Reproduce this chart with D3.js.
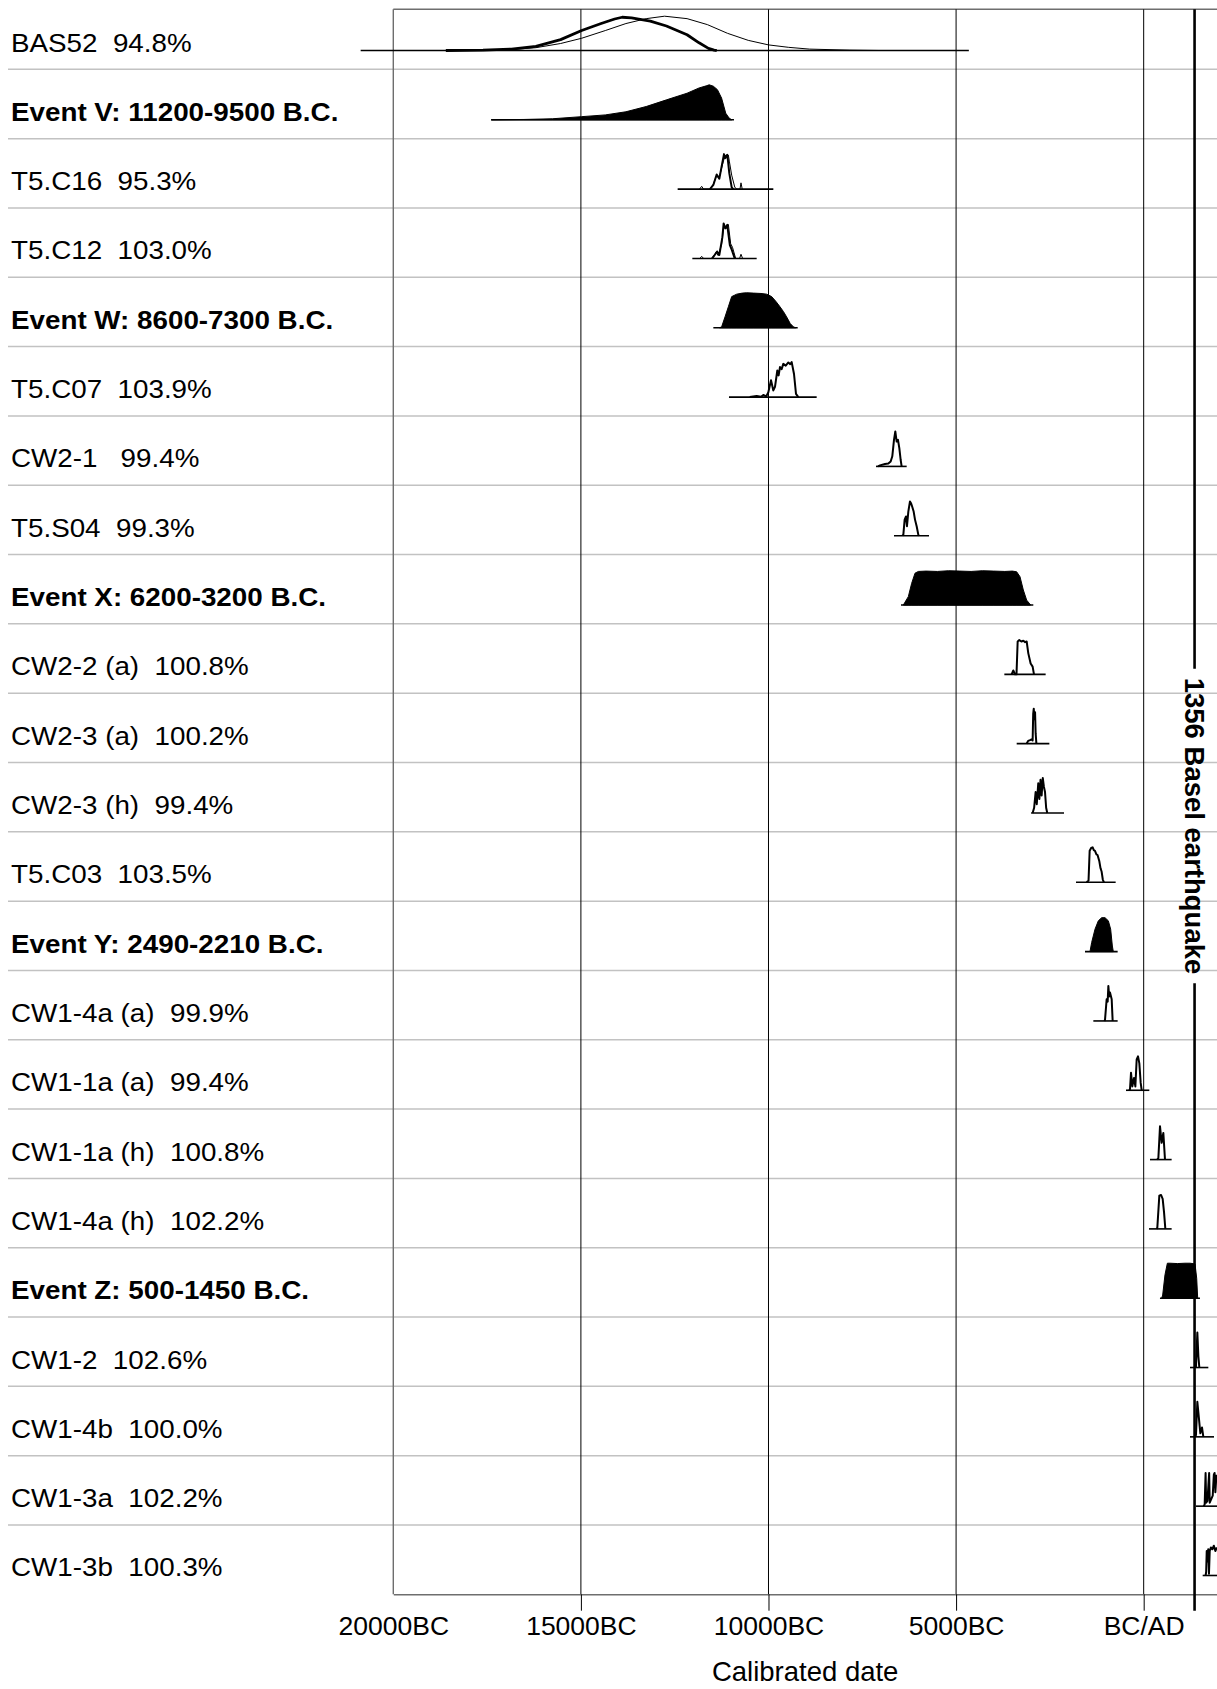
<!DOCTYPE html>
<html>
<head>
<meta charset="utf-8">
<script src="https://cdn.jsdelivr.net/npm/d3@7"></script>
<style>
  body { margin: 0; background: #fff; }
  svg { display: block; }
</style>
</head>
<body>
<svg id="chart" width="1217" height="1689"></svg>
<script>
// ---- data -------------------------------------------------------------
// One row per sample / event, top to bottom.
const rowLabels = [
  "BAS52  94.8%",
  "Event V: 11200-9500 B.C.",
  "T5.C16  95.3%",
  "T5.C12  103.0%",
  "Event W: 8600-7300 B.C.",
  "T5.C07  103.9%",
  "CW2-1   99.4%",
  "T5.S04  99.3%",
  "Event X: 6200-3200 B.C.",
  "CW2-2 (a)  100.8%",
  "CW2-3 (a)  100.2%",
  "CW2-3 (h)  99.4%",
  "T5.C03  103.5%",
  "Event Y: 2490-2210 B.C.",
  "CW1-4a (a)  99.9%",
  "CW1-1a (a)  99.4%",
  "CW1-1a (h)  100.8%",
  "CW1-4a (h)  102.2%",
  "Event Z: 500-1450 B.C.",
  "CW1-2  102.6%",
  "CW1-4b  100.0%",
  "CW1-3a  102.2%",
  "CW1-3b  100.3%"
];

const rowKinds = [
  "sample", "event", "sample", "sample", "event", "sample", "sample", "sample",
  "event", "sample", "sample", "sample", "sample", "event", "sample", "sample",
  "sample", "sample", "event", "sample", "sample", "sample", "sample"
];

// Calendar range over which each distribution was evaluated (years, BC negative)
const rowRanges = [
  [-20870, -4660], [-17390, -10920], [-12421, -9871], [-12030, -10315],
  [-11470, -9222], [-11053, -8716], [-7135, -6317], [-6655, -5722],
  [-6469, -2942], [-3714, -2613], [-3385, -2514], [-3000, -2124],
  [-1804, -747], [-1564, -694], [-1342, -694], [-472, 150],
  [168, 745], [141, 745], [434, 1500], [1234, 1723],
  [1234, 1874], [1394, 2000], [1572, 2000]
];

// Posterior (modelled) probability, [year, relative density 0-100]
const posteriors = [
  [[-18600,0],[-17610,1],[-16850,4],[-16200,12],[-15540,31],[-14980,57],[-14460,77],[-14100,90],[-13900,95],[-13650,93],[-13150,84],[-12720,70],[-12170,45],[-11850,22],[-11600,6],[-11450,1],[-11380,0]],
  [[-17390,0],[-16520,1],[-15760,3],[-14980,9],[-14350,14],[-13800,23],[-13260,38],[-12720,57],[-12170,76],[-11850,91],[-11660,97],[-11580,100],[-11470,96],[-11360,86],[-11250,62],[-11140,19],[-11050,5],[-10980,0]],
  [[-11560,0],[-11470,12],[-11381,42],[-11310,30],[-11240,70],[-11186,100],[-11159,88],[-11120,96],[-11097,98],[-11044,45],[-10981,5],[-10937,0]],
  [[-11500,0],[-11420,12],[-11370,20],[-11310,10],[-11230,60],[-11195,100],[-11150,86],[-11100,96],[-11030,38],[-10980,25],[-10900,0]],
  [[-11300,0],[-11248,3],[-11159,31],[-11070,60],[-10981,89],[-10848,96],[-10700,99],[-10582,100],[-10400,99],[-10200,98],[-10049,96],[-9915,89],[-9800,75],[-9693,60],[-9600,46],[-9516,31],[-9420,12],[-9338,3],[-9280,0]],
  [[-10500,0],[-10315,3],[-10200,1],[-10138,6],[-10060,2],[-10004,14],[-9933,48],[-9871,19],[-9827,29],[-9765,76],[-9730,62],[-9693,86],[-9650,80],[-9605,95],[-9540,90],[-9471,99],[-9420,94],[-9382,100],[-9320,66],[-9267,9],[-9205,0]],
  [[-7080,0],[-7028,3],[-6895,7],[-6806,8],[-6744,14],[-6700,29],[-6655,76],[-6620,100],[-6584,71],[-6549,76],[-6513,52],[-6478,19],[-6451,0]],
  [[-6430,0],[-6406,3],[-6371,46],[-6335,55],[-6309,27],[-6273,69],[-6229,98],[-6202,93],[-6167,82],[-6131,69],[-6095,46],[-6051,27],[-6007,3],[-5990,0]],
  [[-6406,0],[-6273,24],[-6184,62],[-6095,91],[-6006,96],[-5800,97],[-5500,96],[-5200,98],[-4900,97],[-4600,96],[-4300,98],[-4000,97],[-3700,96],[-3500,97],[-3386,95],[-3297,81],[-3208,43],[-3119,14],[-3013,0]],
  [[-3520,0],[-3475,11],[-3430,0],[-3390,0],[-3359,94],[-3315,98],[-3260,94],[-3208,96],[-3160,92],[-3119,94],[-3075,60],[-3013,31],[-2960,22],[-2924,0]],
  [[-3120,0],[-3080,8],[-3030,10],[-2990,12],[-2960,9],[-2945,85],[-2930,100],[-2912,70],[-2895,90],[-2880,30],[-2860,0]],
  [[-2960,0],[-2920,15],[-2880,60],[-2850,25],[-2810,85],[-2780,40],[-2750,95],[-2720,50],[-2690,100],[-2660,75],[-2630,60],[-2600,15],[-2570,0]],
  [[-1520,0],[-1470,5],[-1440,90],[-1400,98],[-1360,100],[-1330,92],[-1298,90],[-1260,80],[-1230,78],[-1182,60],[-1150,40],[-1120,30],[-1090,8],[-1060,0]],
  [[-1431,0],[-1387,26],[-1298,64],[-1209,88],[-1120,97],[-1031,97],[-942,88],[-880,64],[-835,16],[-809,0]],
  [[-1050,0],[-1031,3],[-987,62],[-960,55],[-942,100],[-920,70],[-898,81],[-853,62],[-827,0]],
  [[-380,0],[-364,4],[-338,50],[-302,11],[-258,35],[-222,11],[-187,88],[-151,97],[-116,77],[-80,21],[-53,0]],
  [[360,0],[391,4],[435,95],[479,48],[524,76],[568,0]],
  [[340,0],[363,3],[417,95],[462,97],[506,86],[542,48],[577,0]],
  [[480,0],[506,9],[568,67],[631,100],[702,100],[900,99],[1100,100],[1235,100],[1368,98],[1413,57],[1439,0]],
  [[1380,0],[1394,3],[1430,100],[1457,33],[1483,0]],
  [[1380,0],[1394,6],[1430,100],[1475,50],[1510,10],[1554,27],[1590,0]],
  [[1600,0],[1625,5],[1650,95],[1665,10],[1700,15],[1725,60],[1745,95],[1760,10],[1800,20],[1840,30],[1870,90],[1890,95],[1910,40],[1940,90]],
  [[1650,0],[1665,10],[1680,70],[1700,40],[1720,75],[1740,5],[1760,70],[1790,80],[1830,75],[1870,85],[1910,70],[1950,80]]
];

// Unmodelled likelihoods (shown as thin outlines where they differ visibly)
const likelihoods = [
  [[-18150,0],[-17060,1],[-16200,8],[-15540,20],[-14980,35],[-14350,57],[-13800,77],[-13260,91],[-12770,98],[-12170,91],[-11630,74],[-11090,49],[-10540,29],[-10000,16],[-9460,9],[-8910,4],[-7830,1],[-7060,0]],
  null,
  [[-11840,0],[-11781,8],[-11730,0],[-11560,0],[-11470,14],[-11381,40],[-11320,30],[-11250,60],[-11159,97],[-11133,88],[-11097,92],[-11070,97],[-11044,80],[-10981,40],[-10900,6],[-10848,0],[-10760,0],[-10733,18],[-10700,0]],
  [[-11830,0],[-11781,6],[-11730,0],[-11520,0],[-11440,10],[-11400,18],[-11340,8],[-11250,40],[-11186,99],[-11133,85],[-11070,97],[-11008,42],[-10960,32],[-10875,0],[-10770,0],[-10733,12],[-10690,0]],
  null, null, null, null, null, null, null, null, null, null, null, null,
  null, null, null, null, null, null, null
];

const tickYears = [-20000, -15000, -10000, -5000, 0];
const tickLabels = ["20000BC", "15000BC", "10000BC", "5000BC", "BC/AD"];
const markerYear = 1356;
const markerLabel = "1356 Basel earthquake";
const axisTitle = "Calibrated date";

// ---- layout -----------------------------------------------------------
const W = 1217, H = 1689;
const plotLeft = 393.3, plotRight = W;
const frameTop = 9.3, axisY = 1594.3;
const tickLen = 16.4;
const baseOffset = 50.5;      // distribution baseline inside a row
const labelOffset = 51.5;     // label baseline inside a row

const svg = d3.select("#chart");

const x = d3.scaleLinear().domain([-20000, 1954]).range([plotLeft, plotRight]);
const row = d3.scaleBand().domain(d3.range(rowLabels.length)).range([0, axisY]);
const h = d3.scaleLinear().domain([0, 100]).range([0, 35]);

// row separators
svg.append("g")
  .selectAll("line")
  .data(d3.range(1, rowLabels.length))
  .join("line")
  .attr("x1", 8).attr("x2", W)
  .attr("y1", d => row(d)).attr("y2", d => row(d))
  .attr("stroke", "#c2c2c2").attr("stroke-width", 1.5);

// frame: top edge and left edge
const frame = svg.append("g").attr("stroke", "#6e6e6e").attr("stroke-width", 1.4);
frame.append("line").attr("x1", plotLeft).attr("x2", W).attr("y1", frameTop).attr("y2", frameTop);
frame.append("line").attr("x1", plotLeft).attr("x2", plotLeft).attr("y1", frameTop).attr("y2", axisY);

// vertical grid lines at the axis ticks
svg.append("g")
  .selectAll("line")
  .data(tickYears.slice(1))
  .join("line")
  .attr("x1", d => x(d)).attr("x2", d => x(d))
  .attr("y1", frameTop).attr("y2", axisY)
  .attr("stroke", "#000").attr("stroke-width", 1);

// bottom axis
const axis = svg.append("g")
  .attr("transform", `translate(0,${axisY})`)
  .call(d3.axisBottom(x)
    .tickValues(tickYears)
    .tickFormat((d, i) => tickLabels[i])
    .tickSize(tickLen)
    .tickSizeOuter(0)
    .tickPadding(5));
axis.select(".domain").attr("stroke", "#6e6e6e").attr("stroke-width", 1.4);
axis.selectAll(".tick line").attr("stroke", "#000").attr("stroke-width", 1)
  .attr("display", (d, i) => i === 0 ? "none" : null);
axis.selectAll(".tick text")
  .attr("font-family", "'Liberation Sans', Arial, Helvetica, sans-serif")
  .attr("font-size", 26.5).attr("fill", "#000");

svg.append("text")
  .attr("x", (plotLeft + W) / 2).attr("y", 1681)
  .attr("text-anchor", "middle")
  .attr("font-family", "'Liberation Sans', Arial, Helvetica, sans-serif")
  .attr("font-size", 27.5)
  .text(axisTitle);

// distributions
const area = d3.area().x(d => x(d[0])).y0(0).y1(d => -h(d[1]));
const line = d3.line().x(d => x(d[0])).y(d => -h(d[1]));

const rows = svg.append("g")
  .selectAll("g")
  .data(rowLabels.map((label, i) => ({
    i, label, kind: rowKinds[i], range: rowRanges[i],
    post: posteriors[i], like: likelihoods[i]
  })))
  .join("g")
  .attr("transform", d => `translate(0,${row(d.i) + baseOffset})`);

rows.filter(d => d.kind === "event")
  .append("path")
  .attr("d", d => area(d.post))
  .attr("fill", "#000").attr("stroke", "#000").attr("stroke-width", 1);

rows.filter(d => d.like)
  .append("path")
  .attr("d", d => line(d.like))
  .attr("fill", "none").attr("stroke", "#000").attr("stroke-width", 1);

rows.filter(d => d.kind === "sample")
  .append("path")
  .attr("d", d => line(d.post))
  .attr("fill", "none").attr("stroke", "#000")
  .attr("stroke-width", d => d.i === 0 ? 2.8 : 2)
  .attr("stroke-linejoin", "round");

rows.append("line")
  .attr("x1", d => x(d.range[0])).attr("x2", d => x(d.range[1]))
  .attr("y1", 0).attr("y2", 0)
  .attr("stroke", "#000").attr("stroke-width", 1.6);

// row labels
svg.append("g")
  .selectAll("text")
  .data(rowLabels)
  .join("text")
  .attr("transform", (d, i) => `translate(11,${row(i) + labelOffset}) scale(1.09,1)`)
  .attr("font-family", "'Liberation Sans', Arial, Helvetica, sans-serif")
  .attr("font-size", 25.5)
  .attr("font-weight", (d, i) => rowKinds[i] === "event" ? "bold" : "normal")
  .attr("fill", "#000")
  .style("white-space", "pre")
  .text(d => d);

// 1356 marker line with its rotated label
const mx = x(markerYear);
const labelCenterY = 826;
const mLabel = svg.append("text")
  .attr("transform", `translate(${mx},${labelCenterY}) rotate(90)`)
  .attr("text-anchor", "middle")
  .attr("dy", "0.36em")
  .attr("font-family", "'Liberation Sans', Arial, Helvetica, sans-serif")
  .attr("font-size", 27.5).attr("font-weight", "bold")
  .text(markerLabel);
const half = mLabel.node().getComputedTextLength() / 2 + 9;
const marker = svg.append("g").attr("stroke", "#000").attr("stroke-width", 2.6);
marker.append("line").attr("x1", mx).attr("x2", mx).attr("y1", frameTop).attr("y2", labelCenterY - half);
marker.append("line").attr("x1", mx).attr("x2", mx).attr("y1", labelCenterY + half).attr("y2", axisY + tickLen);
</script>
</body>
</html>
